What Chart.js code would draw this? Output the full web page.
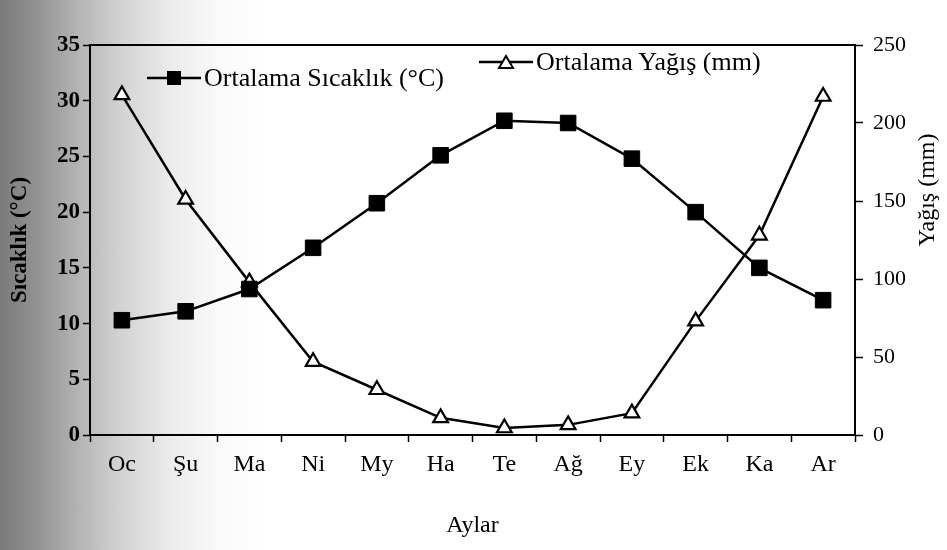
<!DOCTYPE html>
<html>
<head>
<meta charset="utf-8">
<script src="https://cdn.jsdelivr.net/npm/chart.js@4.4.1/dist/chart.umd.min.js"></script>
<style>
html, body { margin: 0; padding: 0; }
body {
  width: 947px; height: 550px; overflow: hidden; position: relative;
  background: linear-gradient(to right, #7a7a7a 0px, #959595 40px, #b5b5b5 80px, #d2d2d2 120px, #ebebeb 170px, #fafafa 220px, #fff 270px);
}
.lg { position: absolute; display: flex; align-items: center; font: 26px "Liberation Serif"; color: #000; white-space: nowrap; }
.lg canvas { margin-right: 3px; }
</style>
</head>
<body>
<canvas id="climChart" width="947" height="550"></canvas>
<div class="lg" id="lg0" style="left:147px; top:63px;"></div>
<div class="lg" id="lg1" style="left:479px; top:47px;"></div>
<script>
// month labels (Turkish abbreviations as printed)
const months = ['Oc', 'Şu', 'Ma', 'Ni', 'My', 'Ha', 'Te', 'Ağ', 'Ey', 'Ek', 'Ka', 'Ar'];
// Ortalama Sıcaklık (°C), left axis
const temps = [10.3, 11.1, 13.1, 16.8, 20.8, 25.1, 28.2, 28.0, 24.8, 20.0, 15.0, 12.1];
// Ortalama Yağış (mm), right axis
const rain = [218, 151, 98, 47, 29, 11, 4.5, 6.5, 14, 73, 128, 217];

const tempTicks = [0, 5, 10, 15, 20, 25, 30, 35];
const rainTicks = [0, 50, 100, 150, 200, 250];

const serif = 'Liberation Serif';

// small legend icons: line with marker in the middle
function legendIcon(kind){
  const c = document.createElement('canvas');
  c.width = 54; c.height = 18;
  const g = c.getContext('2d');
  g.strokeStyle = '#000'; g.lineWidth = 2.5;
  g.beginPath(); g.moveTo(0, 9); g.lineTo(54, 9); g.stroke();
  if (kind === 'rect') {
    g.fillStyle = '#000';
    g.fillRect(20, 2, 14, 14);
  } else {
    g.fillStyle = '#fff'; g.lineWidth = 2;
    g.beginPath(); g.moveTo(27, 3); g.lineTo(34, 15); g.lineTo(20, 15); g.closePath();
    g.fill(); g.stroke();
  }
  return c;
}

// top border of the frame + right axis title (reads bottom to top)
const framePlugin = {
  id: 'frame',
  afterDraw(chart){
    const { ctx, chartArea: a } = chart;
    ctx.save();
    ctx.strokeStyle = '#000'; ctx.lineWidth = 2;
    ctx.beginPath(); ctx.moveTo(a.left, a.top); ctx.lineTo(a.right, a.top); ctx.stroke();
    ctx.translate(928, 190);
    ctx.rotate(-Math.PI / 2);
    ctx.fillStyle = '#000';
    ctx.font = '24px "' + serif + '"';
    ctx.textAlign = 'center'; ctx.textBaseline = 'middle';
    ctx.fillText('Yağış (mm)', 0, 0);
    ctx.restore();
  }
};

const ctx = document.getElementById('climChart').getContext('2d');
const chart = new Chart(ctx, {
  type: 'line',
  data: {
    labels: months,
    datasets: [{
      label: 'Ortalama Sıcaklık (°C)',
      data: temps,
      yAxisID: 'y',
      borderColor: '#000', borderWidth: 2.5,
      pointStyle: 'rect', pointRadius: 11,
      pointBackgroundColor: '#000', pointBorderColor: '#000', pointBorderWidth: 1,
      tension: 0
    }, {
      label: 'Ortalama Yağış (mm)',
      data: rain,
      yAxisID: 'y1',
      borderColor: '#000', borderWidth: 2.5,
      pointStyle: 'triangle', pointRadius: 8.5,
      pointBackgroundColor: '#fff', pointBorderColor: '#000', pointBorderWidth: 2.2,
      tension: 0
    }]
  },
  options: {
    responsive: false,
    animation: false,
    layout: { padding: { top: 45 } },
    plugins: {
      tooltip: { enabled: false },
      legend: { display: false }
    },
    scales: {
      x: {
        offset: true,
        grid: { offset: true, drawOnChartArea: false, color: '#000', tickLength: 7, tickWidth: 1.5 },
        border: { color: '#000', width: 2 },
        ticks: { color: '#000', padding: 8, font: { family: serif, size: 24 } },
        title: { display: true, text: 'Aylar', color: '#000', padding: { top: 10, bottom: 10 }, font: { family: serif, size: 24 } },
        afterFit(s){ s.height = 115; }
      },
      y: {
        position: 'left',
        min: 0, max: 35,
        afterBuildTicks(s){ s.ticks = tempTicks.map(v => ({ value: v })); },
        grid: { drawOnChartArea: false, color: '#000', tickLength: 7, tickWidth: 1.5 },
        border: { color: '#000', width: 2 },
        ticks: { color: '#000', padding: 3, font: { family: serif, size: 23, weight: 'bold' } },
        title: { display: true, text: 'Sıcaklık (°C)', color: '#000', padding: { top: 6, bottom: 6 }, font: { family: serif, size: 23, weight: 'bold' } },
        afterFit(s){ s.width = 90; }
      },
      y1: {
        position: 'right',
        min: 0, max: 250,
        afterBuildTicks(s){ s.ticks = rainTicks.map(v => ({ value: v })); },
        grid: { drawOnChartArea: false, color: '#000', tickLength: 8, tickWidth: 1.5 },
        border: { color: '#000', width: 2 },
        ticks: { color: '#000', padding: 10, font: { family: serif, size: 22 } },
        afterFit(s){ s.width = 92; }
      }
    }
  },
  plugins: [framePlugin]
});

// HTML legend placed inside the plot, built from the dataset labels
chart.data.datasets.forEach((ds, i) => {
  const box = document.getElementById('lg' + i);
  box.appendChild(legendIcon(i === 0 ? 'rect' : 'triangle'));
  const span = document.createElement('span');
  span.textContent = ds.label;
  box.appendChild(span);
});
</script>
</body>
</html>
